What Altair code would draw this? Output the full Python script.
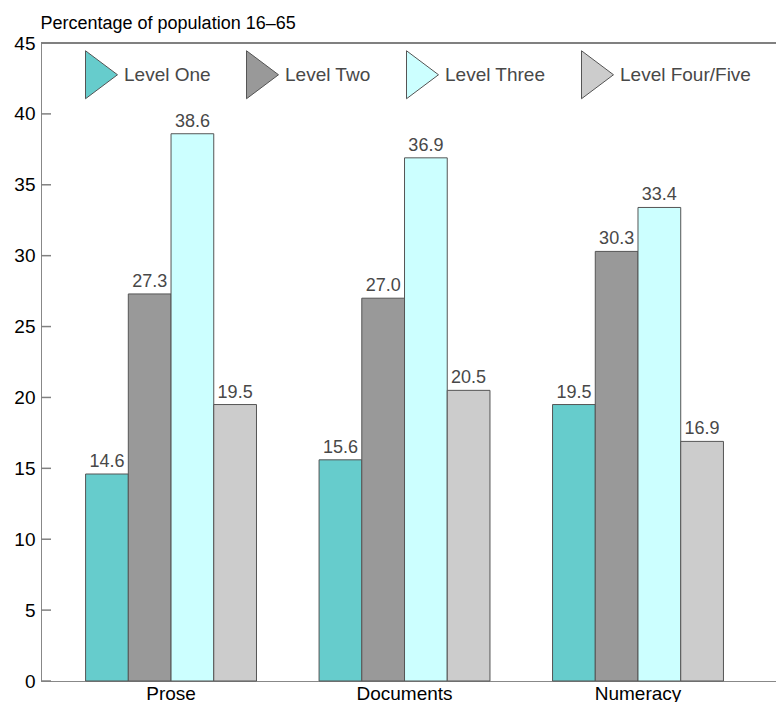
import altair as alt
import pandas as pd

# Literacy scores by skill domain and proficiency level
skills = ["Prose", "Documents", "Numeracy"]
levels = ["Level One", "Level Two", "Level Three", "Level Four/Five"]
prose = [14.6, 27.3, 38.6, 19.5]
documents = [15.6, 27.0, 36.9, 20.5]
numeracy = [19.5, 30.3, 33.4, 16.9]
level_colors = ["#66CCCC", "#999999", "#CCFFFF", "#CCCCCC"]
y_ticks = list(range(0, 50, 5))

rows = []
for skill, vals in zip(skills, [prose, documents, numeracy]):
    for lvl, v in zip(levels, vals):
        rows.append({"skill": skill, "level": lvl, "pct": v})
df = pd.DataFrame(rows)
ticks_df = pd.DataFrame({"tick": y_ticks})

W, H = 735, 638
FONT = "Liberation Sans"
TEXT = "#484848"
AXIS = "#808080"
TRIANGLE = "M-0.333,-1L1,0L-0.333,1Z"

y_scale = alt.Scale(domain=[0, 45], nice=False)

x_enc = alt.X(
    "skill:N",
    sort=skills,
    scale=alt.Scale(paddingInner=0.268, paddingOuter=0.208, align=0.459),
    axis=alt.Axis(title=None, labelAngle=0, ticks=False, labelPadding=3,
                  labelFontSize=19),
)
xoff_enc = alt.XOffset("level:N", sort=levels,
                       scale=alt.Scale(paddingInner=0, paddingOuter=0))

bars = alt.Chart(df).mark_bar(stroke="#555555", strokeWidth=1).encode(
    x=x_enc,
    xOffset=xoff_enc,
    y=alt.Y(
        "pct:Q",
        scale=y_scale,
        axis=alt.Axis(
            values=y_ticks, ticks=False, grid=False, labelPadding=6,
            labelFontSize=19,
            title="Percentage of population 16–65",
            titleAngle=0, titleX=-1, titleY=-15, titleAlign="left",
            titleBaseline="alphabetic", titleFontWeight="normal",
            titleFontSize=18,
        ),
    ),
    color=alt.Color(
        "level:N",
        sort=levels,
        scale=alt.Scale(domain=levels, range=level_colors),
        legend=alt.Legend(
            title=None, orient="none", legendX=28, legendY=7,
            direction="horizontal", symbolType=TRIANGLE, symbolSize=2304,
            symbolStrokeColor="#555555", symbolStrokeWidth=1,
            labelFontSize=19, labelOffset=6, columnPadding=19, padding=0,
            labelFont=FONT, labelColor=TEXT,
        ),
    ),
)

labels = alt.Chart(df).mark_text(
    baseline="alphabetic", dy=-7, fontSize=18, font=FONT, color=TEXT
).encode(
    x=alt.X("skill:N", sort=skills),
    xOffset=alt.XOffset("level:N", sort=levels),
    y=alt.Y("pct:Q", scale=y_scale),
    text=alt.Text("pct:Q", format=".1f"),
)

# inward tick marks on the value axis
inner_ticks = alt.Chart(ticks_df).mark_rule(color=AXIS, strokeWidth=1.5).encode(
    y=alt.Y("tick:Q", scale=y_scale),
    x=alt.value(0),
    x2=alt.value(10),
)

# top frame line
top_line = alt.Chart(ticks_df).mark_rule(color=AXIS, strokeWidth=1.5).encode(
    y=alt.datum(45),
    x=alt.value(0),
    x2=alt.value(W),
)

chart = alt.layer(bars, labels, inner_ticks, top_line).properties(
    width=W,
    height=H,
    autosize=alt.AutoSizeParams(type="none"),
    padding={"left": 41, "top": 43, "right": 0, "bottom": 21},
).configure_view(
    stroke=None
).configure_axis(
    labelFont=FONT, titleFont=FONT, labelColor=TEXT, titleColor=TEXT,
    domainColor=AXIS, domainWidth=1.5,
).configure(background="white")

chart.save("out.html", embed_options={"renderer": "svg", "actions": False})
